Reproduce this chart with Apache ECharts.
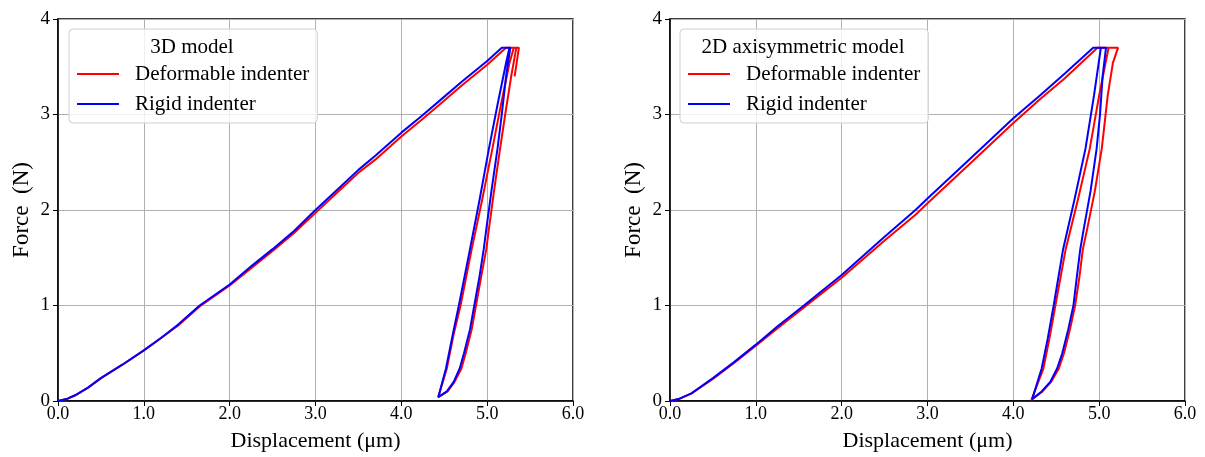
<!DOCTYPE html>
<html>
<head>
<meta charset="utf-8">
<script src="https://cdn.jsdelivr.net/npm/echarts@6/dist/echarts.min.js"></script>
<style>html,body{margin:0;padding:0;background:#fff}#c{width:1205px;height:457px}</style>
</head>
<body>
<div id="c"></div>
<script>
// ---------- DATA ----------
const xTicks = [0, 1, 2, 3, 4, 5, 6];
const yTicks = [0, 1, 2, 3, 4];
const seriesNames = ['Deformable indenter', 'Rigid indenter'];
const panelTitles = ['3D model', '2D axisymmetric model'];

// 3D model, deformable indenter (path: loading, hold, unloading, reloading)
const disp3D_def = [0, 0.1, 0.2, 0.35, 0.5, 0.75, 1.0, 1.2, 1.4, 1.65, 2.0, 2.25, 2.5, 2.75, 3.0, 3.25, 3.5, 3.7, 4.0, 4.23, 4.44, 4.7, 5.0, 5.22,
  5.34, 5.28, 5.21, 5.15, 5.08, 5.02, 4.99, 4.93, 4.87, 4.82, 4.75, 4.70, 4.62, 4.54, 4.43,
  4.53, 4.61, 4.69, 4.82, 4.94, 5.06, 5.16, 5.26, 5.31, 5.37, 5.32];
const force3D_def = [0, 0.02, 0.06, 0.14, 0.24, 0.38, 0.53, 0.66, 0.79, 0.99, 1.21, 1.39, 1.57, 1.76, 1.97, 2.18, 2.39, 2.53, 2.77, 2.94, 3.10, 3.30, 3.52, 3.70,
  3.70, 3.40, 3.00, 2.64, 2.20, 1.80, 1.59, 1.30, 1.00, 0.75, 0.50, 0.34, 0.20, 0.10, 0.04,
  0.34, 0.70, 1.00, 1.59, 2.10, 2.64, 3.10, 3.54, 3.70, 3.70, 3.40];

// 3D model, rigid indenter
const disp3D_rig = [0, 0.1, 0.2, 0.35, 0.5, 0.75, 1.0, 1.2, 1.4, 1.65, 2.0, 2.25, 2.5, 2.75, 3.0, 3.25, 3.5, 3.7, 4.0, 4.23, 4.44, 4.7, 5.0, 5.17,
  5.27, 5.22, 5.17, 5.12, 5.05, 4.99, 4.96, 4.91, 4.85, 4.80, 4.73, 4.68, 4.61, 4.53, 4.43,
  4.52, 4.60, 4.67, 4.80, 4.91, 5.02, 5.12, 5.22, 5.26];
const force3D_rig = [0, 0.02, 0.06, 0.14, 0.24, 0.38, 0.53, 0.66, 0.80, 1.00, 1.22, 1.41, 1.59, 1.78, 2.00, 2.21, 2.42, 2.57, 2.81, 2.98, 3.14, 3.34, 3.56, 3.70,
  3.70, 3.40, 3.00, 2.64, 2.20, 1.80, 1.59, 1.30, 1.00, 0.75, 0.50, 0.34, 0.20, 0.10, 0.04,
  0.34, 0.70, 1.00, 1.59, 2.10, 2.64, 3.10, 3.54, 3.70];

// 2D axisymmetric model, deformable indenter
const disp2D_def = [0, 0.1, 0.25, 0.5, 0.75, 1.0, 1.25, 1.56, 2.0, 2.5, 2.86, 3.0, 3.5, 4.0, 4.31, 4.6, 4.98,
  5.22, 5.16, 5.10, 5.03, 4.95, 4.86, 4.81, 4.77, 4.72, 4.66, 4.59, 4.53, 4.44, 4.34, 4.21,
  4.35, 4.42, 4.49, 4.61, 4.75, 4.89, 5.00, 5.11];
const force2D_def = [0, 0.02, 0.08, 0.23, 0.40, 0.58, 0.76, 0.98, 1.29, 1.68, 1.95, 2.07, 2.49, 2.91, 3.16, 3.38, 3.70,
  3.70, 3.54, 3.20, 2.64, 2.20, 1.80, 1.59, 1.30, 1.00, 0.75, 0.50, 0.34, 0.20, 0.10, 0.01,
  0.34, 0.65, 1.00, 1.59, 2.10, 2.64, 3.20, 3.70];

// 2D axisymmetric model, rigid indenter
const disp2D_rig = [0, 0.1, 0.25, 0.5, 0.75, 1.0, 1.25, 1.56, 2.0, 2.5, 2.86, 3.0, 3.5, 4.0, 4.31, 4.6, 4.93,
  5.08, 5.04, 5.01, 4.97, 4.90, 4.82, 4.78, 4.74, 4.70, 4.64, 4.57, 4.51, 4.43, 4.33, 4.22,
  4.33, 4.40, 4.47, 4.58, 4.71, 4.84, 4.94, 5.02];
const force2D_rig = [0, 0.02, 0.08, 0.24, 0.41, 0.59, 0.78, 1.00, 1.32, 1.72, 2.00, 2.12, 2.54, 2.96, 3.20, 3.43, 3.70,
  3.70, 3.40, 3.00, 2.64, 2.20, 1.80, 1.59, 1.30, 1.00, 0.75, 0.50, 0.34, 0.20, 0.10, 0.02,
  0.34, 0.65, 1.00, 1.59, 2.10, 2.64, 3.20, 3.70];

// ---------- CHART ----------
const FONT = 'Liberation Serif';
const pairs = (xs, ys) => xs.map((x, i) => [x, ys[i]]);

function xAxis(gi) {
  return {
    type: 'value', gridIndex: gi, min: xTicks[0], max: xTicks[xTicks.length - 1], interval: 1,
    name: 'Displacement (μm)', nameLocation: 'middle', nameGap: 29,
    nameTextStyle: { fontFamily: FONT, fontSize: 22, color: '#000' },
    axisLine: { show: true, onZero: false, lineStyle: { color: '#000', width: 1.5 } },
    axisTick: { show: true, inside: false, length: 5, lineStyle: { color: '#000', width: 1 } },
    axisLabel: { fontFamily: FONT, fontSize: 18, color: '#000', margin: 4, formatter: v => v.toFixed(1) },
    splitLine: { show: true, lineStyle: { color: '#b0b0b0', width: 1 } }
  };
}
function yAxis(gi) {
  return {
    type: 'value', gridIndex: gi, min: yTicks[0], max: yTicks[yTicks.length - 1], interval: 1,
    name: 'Force  (N)', nameLocation: 'middle', nameGap: 25, nameRotate: 90,
    nameTextStyle: { fontFamily: FONT, fontSize: 23, color: '#000' },
    axisLine: { show: true, onZero: false, lineStyle: { color: '#000', width: 1.5 } },
    axisTick: { show: true, inside: false, length: 5, lineStyle: { color: '#000', width: 1 } },
    axisLabel: { fontFamily: FONT, fontSize: 19, color: '#000', margin: 8 },
    splitLine: { show: true, lineStyle: { color: '#b0b0b0', width: 1 } }
  };
}
function legend(left) {
  return {
    orient: 'vertical', left: left, top: 29,
    padding: [33, 8, 7, 8], itemGap: 6, itemWidth: 42, itemHeight: 2,
    icon: 'rect',
    backgroundColor: 'rgba(255,255,255,0.8)', borderColor: '#d0d0d0', borderWidth: 1, borderRadius: 4,
    data: seriesNames,
    textStyle: { fontFamily: FONT, fontSize: 21, color: '#000', lineHeight: 24, padding: [0, 0, 0, 11] },
    selectedMode: false
  };
}
function line(name, color, xs, ys, gi) {
  return {
    type: 'line', name: name, xAxisIndex: gi, yAxisIndex: gi,
    data: pairs(xs, ys), showSymbol: false, symbol: 'none',
    lineStyle: { color: color, width: 2 }, itemStyle: { color: color },
    z: 3
  };
}

const chart = echarts.init(document.getElementById('c'), null, { renderer: 'canvas' });
chart.setOption({
  animation: false,
  backgroundColor: '#fff',
  grid: [
    { left: 58, top: 19, width: 515, height: 384, show: true, borderColor: '#000', borderWidth: 1.5, backgroundColor: 'transparent' },
    { left: 670, top: 19, width: 515, height: 384, show: true, borderColor: '#000', borderWidth: 1.5, backgroundColor: 'transparent' }
  ],
  xAxis: [xAxis(0), xAxis(1)],
  yAxis: [yAxis(0), yAxis(1)],
  legend: [legend(69), legend(680)],
  graphic: [
    { type: 'text', x: 192, y: 47, z: 100, style: { text: panelTitles[0], align: 'center', verticalAlign: 'middle', fontFamily: FONT, fontSize: 21, fill: '#000' } },
    { type: 'text', x: 803, y: 47, z: 100, style: { text: panelTitles[1], align: 'center', verticalAlign: 'middle', fontFamily: FONT, fontSize: 21, fill: '#000' } }
  ],
  series: [
    line(seriesNames[0], '#ff0000', disp3D_def, force3D_def, 0),
    line(seriesNames[1], '#0000ff', disp3D_rig, force3D_rig, 0),
    line(seriesNames[0], '#ff0000', disp2D_def, force2D_def, 1),
    line(seriesNames[1], '#0000ff', disp2D_rig, force2D_rig, 1)
  ]
});
</script>
</body>
</html>
